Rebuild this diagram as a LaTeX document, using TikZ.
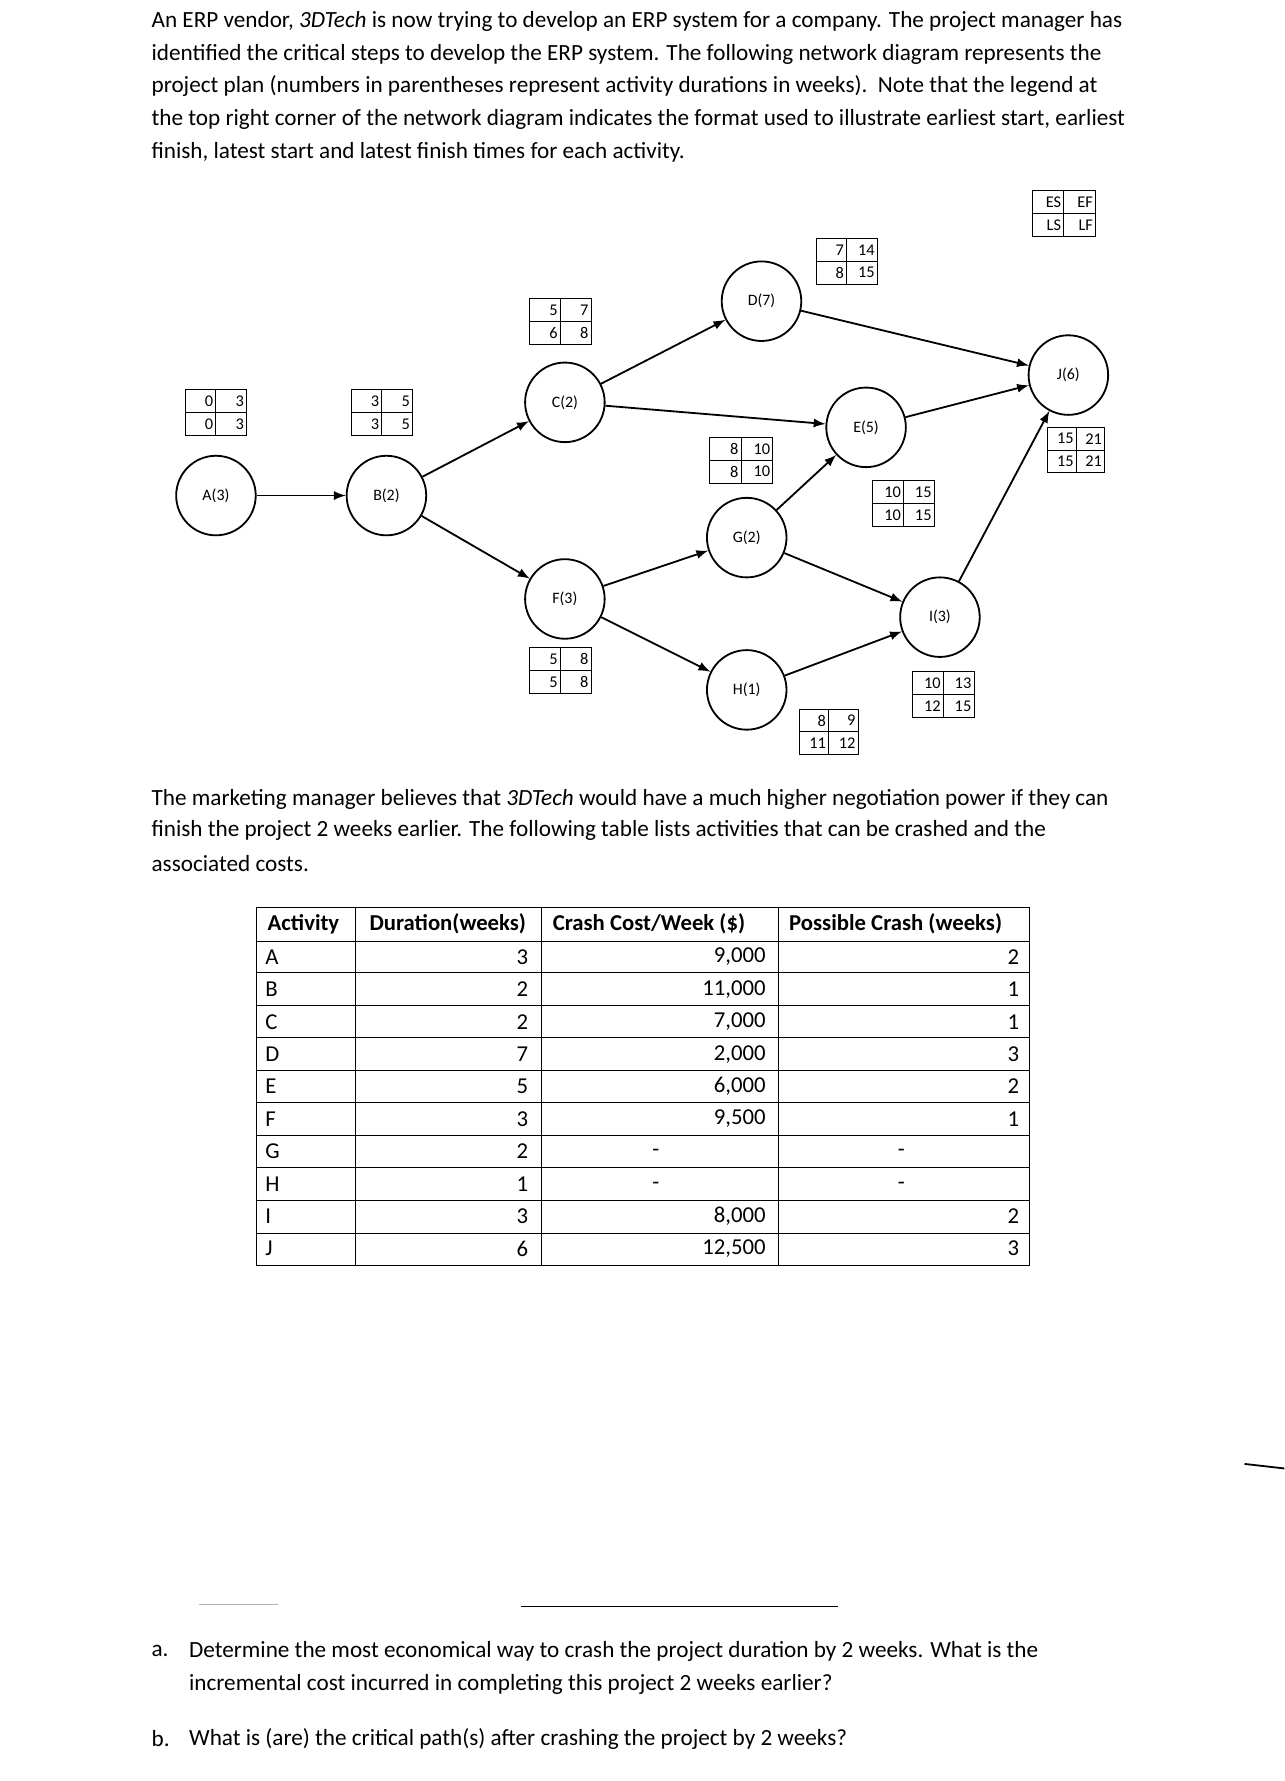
\documentclass[tikz,border=0pt]{standalone}
\usepackage{fontspec}
\setmainfont{Carlito}
\begin{document}
\begin{tikzpicture}[x=0.5pt,y=-0.5pt,
  txt/.style={anchor=west,inner sep=0,font=\fontsize{10.2}{12}\selectfont},
  act/.style={circle,draw,thick,minimum size=35pt,inner sep=0,font=\fontsize{7}{8}\selectfont},
  arr/.style={thick,-latex},
  cell/.style={font=\fontsize{7.2}{8}\selectfont,inner sep=1pt,anchor=east},
  tb/.style={font=\fontsize{10}{12}\selectfont,inner sep=0}]
\useasboundingbox (0,0) rectangle (1130,1567);
% intro text
\node[txt] (t1) at (133,19) {An ERP vendor, \textit{3DTech} is now trying to develop an ERP system for a company. The project manager has};
\node[txt] (t2) at (133,48) {identified the critical steps to develop the ERP system. The following network diagram represents the};
\node[txt] (t3) at (133,76) {project plan (numbers in parentheses represent activity durations in weeks).\ \ Note that the legend at};
\node[txt] (t4) at (133,105) {the top right corner of the network diagram indicates the format used to illustrate earliest start, earliest};
\node[txt] (t5) at (133,134) {finish, latest start and latest finish times for each activity.};
% activities
\node[act] (A) at (190,436) {A(3)};
\node[act] (B) at (340,436) {B(2)};
\node[act] (C) at (497,354) {C(2)};
\node[act] (F) at (497,527) {F(3)};
\node[act] (D) at (670,265) {D(7)};
\node[act] (E) at (762,376) {E(5)};
\node[act] (G) at (657,473) {G(2)};
\node[act] (H) at (657,607) {H(1)};
\node[act] (I) at (827,543) {I(3)};
\node[act] (J) at (940,330) {J(6)};
\foreach \a/\b in {A/B,B/C,B/F,C/D,C/E,F/G,F/H,D/J,E/J,G/E,G/I,H/I,I/J}
  \draw[arr] (\a) -- (\b);
% boxes
\newcommand{\tbox}[7]{% x y w a b c d
  \draw (#1,#2) rectangle ++(2*#3,40);
  \draw (#1+#3,#2) -- ++(0,40);
  \draw (#1,#2+20) -- ++(2*#3,0);
  \node[cell] at (#1+#3,#2+10) {#4};
  \node[cell] at (#1+2*#3,#2+10) {#5};
  \node[cell] at (#1+#3,#2+30) {#6};
  \node[cell] at (#1+2*#3,#2+30) {#7};}
\tbox{163}{343}{27}{0}{3}{0}{3}
\tbox{309}{343}{27}{3}{5}{3}{5}
\tbox{466}{263}{27}{5}{7}{6}{8}
\tbox{718}{210}{27}{7}{14}{8}{15}
\tbox{908}{168}{28}{ES}{EF}{LS}{LF}
\tbox{922}{376}{25}{15}{21}{15}{21}
\tbox{624}{385}{28}{8}{10}{8}{10}
\tbox{768}{423}{27}{10}{15}{10}{15}
\tbox{466}{570}{27}{5}{8}{5}{8}
\tbox{803}{591}{27}{10}{13}{12}{15}
\tbox{703}{624}{26}{8}{9}{11}{12}
% middle text
\node[txt] (m1) at (133,703) {The marketing manager believes that \textit{3DTech} would have a much higher negotiation power if they can};
\node[txt] (m2) at (133,731) {finish the project 2 weeks earlier. The following table lists activities that can be crashed and the};
\node[txt] (m3) at (133,760) {associated costs.};
% table
\draw (226,798) rectangle (906,1113);
\foreach \x in {313,476,685} \draw (\x,798) -- (\x,1113);
\foreach \y in {828,856,885,913,942,970,999,1027,1056,1085} \draw (226,\y) -- (906,\y);
\node[tb,font=\bfseries\fontsize{10}{12}\selectfont] at (267,813) {Activity};
\node[tb,font=\bfseries\fontsize{10}{12}\selectfont] at (394,813) {Duration(weeks)};
\node[tb,font=\bfseries\fontsize{10}{12}\selectfont] at (571,813) {Crash Cost/Week (\$)};
\node[tb,font=\bfseries\fontsize{10}{12}\selectfont] at (788,813) {Possible Crash (weeks)};
\foreach \r/\l/\c/\p [count=\i] in {A/3/{9,000}/2,B/2/{11,000}/1,C/2/{7,000}/1,D/7/{2,000}/3,E/5/{6,000}/2,F/3/{9,500}/1,I/3/{8,000}/2,J/6/{12,500}/3}{
  \pgfmathsetmacro\yy{\i<7 ? 842+28.5*(\i-1) : 842+28.5*(\i+1)}
  \node[tb,anchor=west] at (233,\yy) {\r};
  \node[tb,anchor=east] at (465,\yy) {\l};
  \node[tb,anchor=east] at (674,\yy) {\c};
  \node[tb,anchor=east] at (897,\yy) {\p};}
\foreach \r/\l/\yy in {G/2/1013,H/1/1042}{
  \node[tb,anchor=west] at (233,\yy) {\r};
  \node[tb,anchor=east] at (465,\yy) {\l};
  \node[tb] at (577,\yy+1) {-};
  \node[tb] at (793,\yy+1) {-};}
% lines
\draw[gray!60,thin] (175,1412) -- (245,1412);
\draw (458,1413) -- (737,1413);
\draw[thick] (1095,1288) -- (1130,1292);
% questions
\node[txt] (q1) at (133,1453) {a.};
\node[txt] (q1b) at (166,1453) {Determine the most economical way to crash the project duration by 2 weeks. What is the};
\node[txt] (q1c) at (166,1482) {incremental cost incurred in completing this project 2 weeks earlier?};
\node[txt] (q2) at (133,1530) {b.};
\node[txt] (q2b) at (166,1530) {What is (are) the critical path(s) after crashing the project by 2 weeks?};
\end{tikzpicture}
\end{document}
